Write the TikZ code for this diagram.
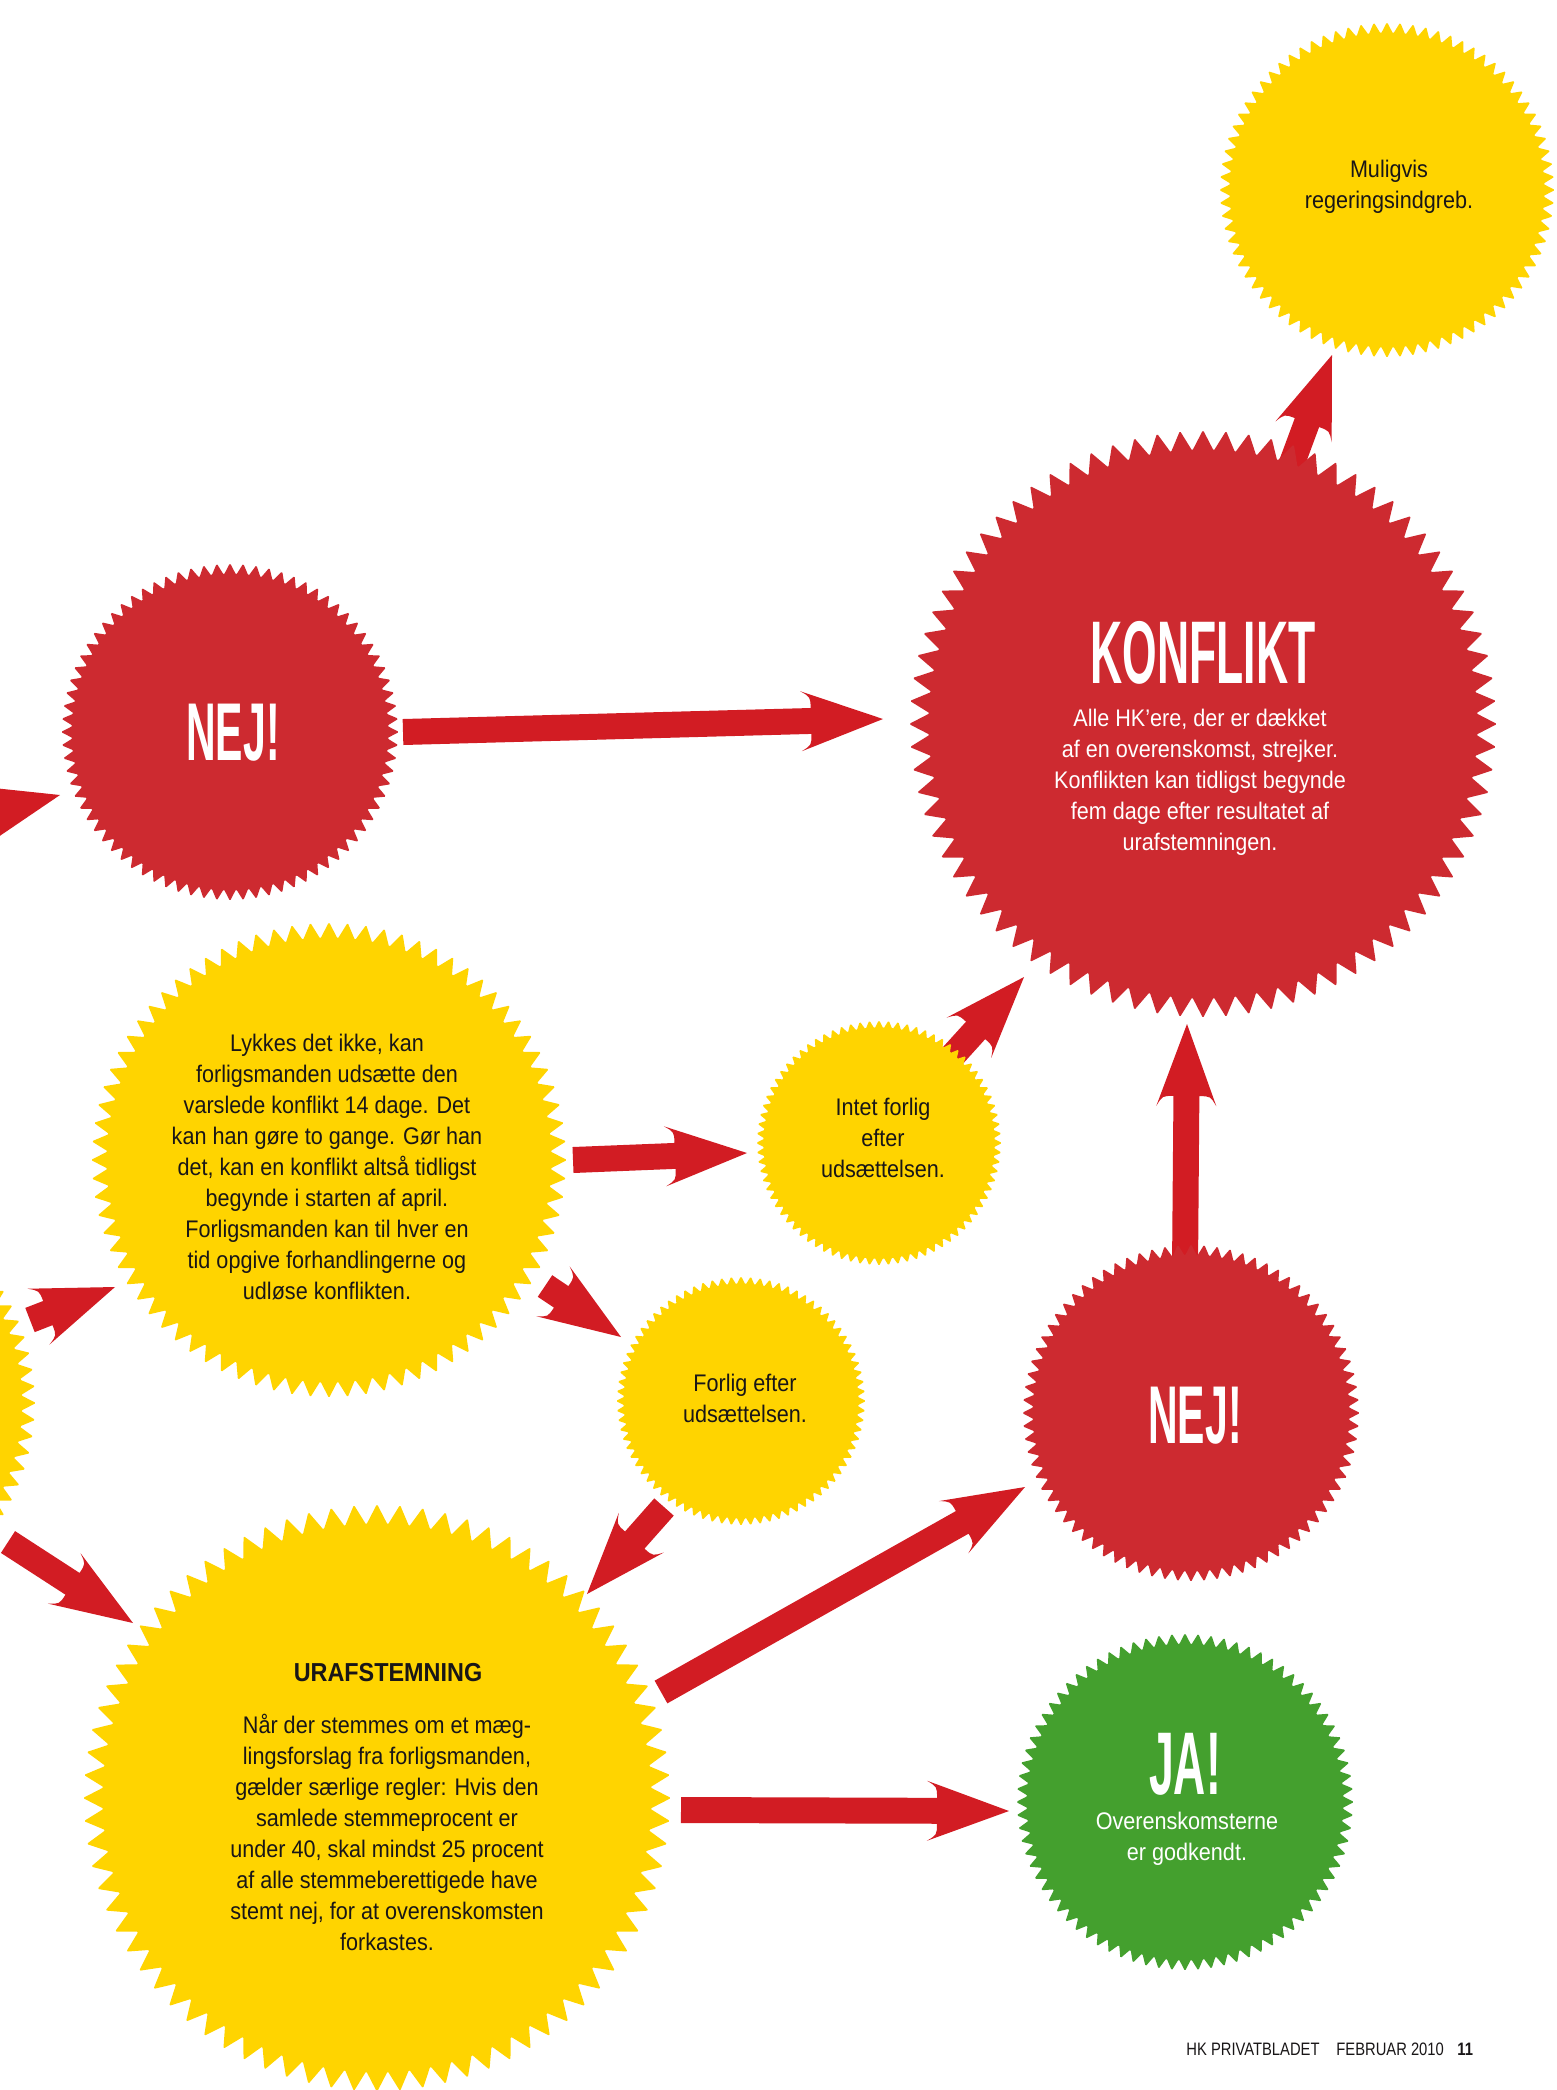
\documentclass[tikz,border=0pt]{standalone}
\usepackage{fontspec}
\setmainfont{Liberation Sans}[FakeStretch=0.9]
\newfontfamily\headfont{Liberation Sans}[FakeStretch=0.5]
\newfontfamily\footfont{Liberation Sans}[FakeStretch=0.82]
\usetikzlibrary{calc}

\definecolor{burstred}{RGB}{205,42,48}
\definecolor{arrowred}{RGB}{210,28,35}
\definecolor{sunyellow}{RGB}{255,212,0}
\definecolor{leafgreen}{RGB}{68,160,46}
\definecolor{inkblack}{RGB}{25,22,23}

% toothed sun: centre coordinate, outer radius, colour
\newcommand\burst[3]{%
  \fill[#3, rounded corners=0.7pt] ($(#1)+(0:#2)$)
    \foreach \k in {1,...,159}{ -- ($(#1)+({\k*2.25}:{#2*(1-0.07*mod(\k,2))})$) } -- cycle;
}

% broad arrow with swept-back barbs: from tail coordinate to tip coordinate
\newcommand\bigarrow[2]{%
  \fill[arrowred]
    ($(#1)!6.5pt!90:(#2)$) --
    ($(#2)!36.6pt!-10.2:(#1)$) .. controls ($(#2)!37.95pt!-18.4:(#1)$) .. ($(#2)!43.65pt!-20.1:(#1)$) --
    (#2) --
    ($(#2)!43.65pt!20.1:(#1)$) .. controls ($(#2)!37.95pt!18.4:(#1)$) .. ($(#2)!36.6pt!10.2:(#1)$) --
    ($(#1)!6.5pt!-90:(#2)$) -- cycle;
}

\tikzset{
  bodytext/.style={align=center, inner sep=0pt, text=inkblack,
    font=\fontsize{12}{15.5}\selectfont},
  whitebody/.style={bodytext, text=white},
  headtext/.style={inner sep=0pt, text=white,
    font=\headfont\bfseries\fontsize{41}{41}\selectfont},
  bigheadtext/.style={headtext, font=\headfont\bfseries\fontsize{44.5}{44.5}\selectfont},
  foottext/.style={inner sep=0pt, anchor=base west, text=inkblack,
    font=\footfont\fontsize{9}{9}\selectfont},
}

\begin{document}
\begin{tikzpicture}[x=0.5pt, y=-0.5pt]
  \clip (0,0) rectangle (1557,2090);
  \fill[white] (0,0) rectangle (1557,2090);

  % centres of the suns
  \coordinate (muligvis) at (1387,190);
  \coordinate (konflikt) at (1203,724);
  \coordinate (nejtop)   at (230,732);
  \coordinate (lykkes)   at (329,1160);
  \coordinate (prev)     at (-179,1403);
  \coordinate (intet)    at (879,1143);
  \coordinate (forlig)   at (741,1401);
  \coordinate (nejlow)   at (1191,1413);
  \coordinate (uraf)     at (377,1798);
  \coordinate (ja)       at (1185,1802);

  % arrow tails and tips
  \coordinate (a1s) at (-231,868);  \coordinate (a1t) at (60,795);
  \coordinate (a2s) at (403,732);   \coordinate (a2t) at (883,719);
  \coordinate (a3s) at (1252,571);  \coordinate (a3t) at (1332,355);
  \coordinate (a4s) at (573,1160);  \coordinate (a4t) at (747,1153);
  \coordinate (a5s) at (937,1073);  \coordinate (a5t) at (1024,977);
  \coordinate (a6s) at (1185,1270); \coordinate (a6t) at (1187,1024);
  \coordinate (a7s) at (30,1320);   \coordinate (a7t) at (115,1287);
  \coordinate (a8s) at (8,1542);    \coordinate (a8t) at (133,1623);
  \coordinate (a9s) at (545,1286);  \coordinate (a9t) at (621,1337);
  \coordinate (a10s) at (664,1507); \coordinate (a10t) at (587,1594);
  \coordinate (a11s) at (661,1692); \coordinate (a11t) at (1025,1487);
  \coordinate (a12s) at (681,1810); \coordinate (a12t) at (1009,1811);

  % arrows lie beneath the suns
  \bigarrow{a1s}{a1t}
  \bigarrow{a2s}{a2t}
  \bigarrow{a3s}{a3t}
  \bigarrow{a4s}{a4t}
  \bigarrow{a5s}{a5t}
  \bigarrow{a6s}{a6t}
  \bigarrow{a7s}{a7t}
  \bigarrow{a8s}{a8t}
  \bigarrow{a9s}{a9t}
  \bigarrow{a10s}{a10t}
  \bigarrow{a11s}{a11t}
  \bigarrow{a12s}{a12t}

  % suns
  \burst{muligvis}{168}{sunyellow}
  \burst{konflikt}{294}{burstred}
  \burst{nejtop}{169}{burstred}
  \burst{lykkes}{238}{sunyellow}
  \burst{prev}{215}{sunyellow}
  \burst{intet}{123}{sunyellow}
  \burst{forlig}{125}{sunyellow}
  \burst{nejlow}{169}{burstred}
  \burst{uraf}{294}{sunyellow}
  \burst{ja}{169}{leafgreen}

  % texts
  \node[bodytext] (muligvis-txt) at (1389,187) {Muligvis\\regeringsindgreb.};

  \node[bigheadtext] (konflikt-head) at (1203,653) {KONFLIKT};
  \node[whitebody] (konflikt-txt) at (1200,782) {Alle HK’ere, der er dækket\\af en overenskomst, strejker.\\Konflikten kan tidligst begynde\\fem dage efter resultatet af\\urafstemningen.};

  \node[headtext] (nejtop-head) at (233,733) {NEJ!};

  \node[bodytext] (lykkes-txt) at (327,1167) {Lykkes det ikke, kan\\forligsmanden udsætte den\\varslede konflikt 14 dage. Det\\kan han gøre to gange. Gør han\\det, kan en konflikt altså tidligst\\begynde i starten af april.\\Forligsmanden kan til hver en\\tid opgive forhandlingerne og\\udløse konflikten.};

  \node[bodytext] (intet-txt) at (883,1138) {Intet forlig\\efter\\udsættelsen.};

  \node[bodytext] (forlig-txt) at (745,1398) {Forlig efter\\udsættelsen.};

  \node[headtext] (nejlow-head) at (1195,1416) {NEJ!};

  \node[bodytext, font=\bfseries\fontsize{13}{13}\selectfont] (uraf-head) at (388,1673) {URAFSTEMNING};
  \node[bodytext] (uraf-txt) at (387,1832) {Når der stemmes om et mæg-\\lingsforslag fra forligsmanden,\\gælder særlige regler: Hvis den\\samlede stemmeprocent er\\under 40, skal mindst 25 procent\\af alle stemmeberettigede have\\stemt nej, for at overenskomsten\\forkastes.};

  \node[bigheadtext] (ja-head) at (1185,1764) {JA!};
  \node[whitebody] (ja-txt) at (1187,1839) {Overenskomsterne\\er godkendt.};

  % folio line
  \node[foottext] (folio-title) at (1186,2055) {HK PRIVATBLADET};
  \node[foottext] (folio-date) at (1336,2055) {FEBRUAR 2010};
  \node[foottext, font=\footfont\bfseries\fontsize{9}{9}\selectfont] (folio-page) at (1457,2055) {11};
\end{tikzpicture}
\end{document}
